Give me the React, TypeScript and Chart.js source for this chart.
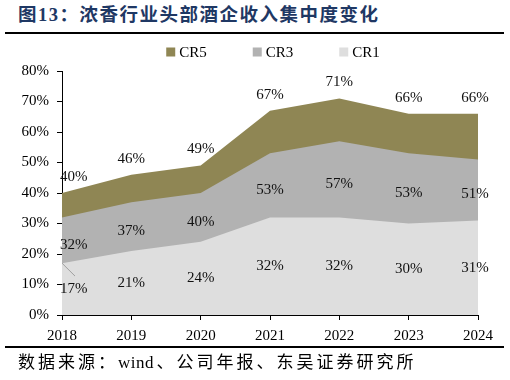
import React, { useEffect, useRef } from "react";
import { Chart, registerables } from "chart.js";

Chart.register(...registerables);

const years = ["2018", "2019", "2020", "2021", "2022", "2023", "2024"];
const cr5 = [40, 46, 49, 67, 71, 66, 66];
const cr3 = [32, 37, 40, 53, 57, 53, 51];
const cr1 = [17, 21, 24, 32, 32, 30, 31];
const yTicks = [0, 10, 20, 30, 40, 50, 60, 70, 80];

const COL5 = "#8F8654";
const COL3 = "#B2B2B2";
const COL1 = "#DEDEDE";
const SERIF = '"Times New Roman", "Liberation Serif", "Noto Sans CJK SC", serif';

const legendPlugin = {
  id: "customLegend",
  afterDraw(chart: any) {
    const { ctx, chartArea } = chart;
    const items = [
      { t: "CR5", c: COL5 },
      { t: "CR3", c: COL3 },
      { t: "CR1", c: COL1 },
    ];
    ctx.save();
    ctx.font = "15px " + SERIF;
    ctx.textBaseline = "middle";
    ctx.textAlign = "left";
    const box = 9;
    const gapBox = 4;
    const gap = 46;
    const widths = items.map((it) => box + gapBox + ctx.measureText(it.t).width);
    const total = widths.reduce((a, b) => a + b, 0) + gap * (items.length - 1);
    let x = (chartArea.left + chartArea.right) / 2 - total / 2 + 3;
    const yc = chartArea.top - 19;
    items.forEach((it, i) => {
      ctx.fillStyle = it.c;
      ctx.fillRect(x, yc - box / 2, box, box);
      ctx.fillStyle = "#000";
      ctx.fillText(it.t, x + box + gapBox, yc + 1);
      x += widths[i] + gap;
    });
    ctx.restore();
  },
};

const labelPlugin = {
  id: "valueLabels",
  afterDatasetsDraw(chart: any) {
    const { ctx } = chart;
    const x = chart.scales.x;
    const y = chart.scales.y;
    ctx.save();
    ctx.font = "15px " + SERIF;
    ctx.fillStyle = "#111";
    ctx.textBaseline = "middle";
    // leader line for first CR1 label
    const p0x = x.getPixelForValue(0);
    ctx.strokeStyle = "#A0A0A0";
    ctx.lineWidth = 1;
    ctx.beginPath();
    ctx.moveTo(p0x, y.getPixelForValue(cr1[0]));
    ctx.lineTo(p0x + 13, y.getPixelForValue(cr1[0] / 2) - 13);
    ctx.stroke();
    years.forEach((_, i) => {
      const px = x.getPixelForValue(i);
      const place = (text: string, py: number) => {
        let tx = px;
        let align = "center";
        if (i === 0) {
          align = "left";
          tx = px - 2;
        } else if (i === years.length - 1) {
          tx = px - 3;
        }
        ctx.textAlign = align;
        ctx.fillText(text, tx, py);
      };
      place(cr5[i] + "%", y.getPixelForValue(cr5[i]) - 16);
      place(cr3[i] + "%", y.getPixelForValue((cr1[i] + cr3[i]) / 2 - 1.5));
      place(cr1[i] + "%", y.getPixelForValue(cr1[i] / 2));
    });
    ctx.restore();
  },
};

function ChartBox() {
  const ref = useRef<HTMLCanvasElement>(null);
  useEffect(() => {
    if (!ref.current) return;
    const chart = new Chart(ref.current, {
      type: "line",
      data: {
        labels: years,
        datasets: [
          { label: "CR1", data: cr1, backgroundColor: COL1, borderWidth: 0, pointRadius: 0, fill: "origin", tension: 0 },
          { label: "CR3", data: cr3, backgroundColor: COL3, borderWidth: 0, pointRadius: 0, fill: "origin", tension: 0 },
          { label: "CR5", data: cr5, backgroundColor: COL5, borderWidth: 0, pointRadius: 0, fill: "origin", tension: 0 },
        ],
      },
      options: {
        animation: false,
        responsive: false,
        maintainAspectRatio: false,
        layout: { padding: { top: 33, right: 32, bottom: 2, left: 0 } },
        plugins: {
          legend: { display: false },
          tooltip: { enabled: false },
        },
        scales: {
          x: {
            type: "category",
            offset: false,
            grid: { display: true, drawOnChartArea: false, drawTicks: true, tickLength: 5, tickColor: "#000" },
            border: { display: true, color: "#000", width: 1 },
            ticks: { color: "#000", font: { family: SERIF, size: 15 }, padding: 7, maxRotation: 0, autoSkip: false },
          },
          y: {
            min: 0,
            max: 80,
            afterFit: (s: any) => {
              s.width = 62;
            },
            afterBuildTicks: (s: any) => {
              s.ticks = yTicks.map((v) => ({ value: v }));
            },
            grid: { display: true, drawOnChartArea: false, drawTicks: true, tickLength: 5, tickColor: "#000" },
            border: { display: true, color: "#000", width: 1 },
            ticks: {
              color: "#000",
              font: { family: SERIF, size: 15 },
              padding: 8,
              callback: (v: any) => v + "%",
            },
          },
        },
      },
      plugins: [labelPlugin, legendPlugin],
    });
    return () => chart.destroy();
  }, []);
  return <canvas ref={ref} width={510} height={316} style={{ position: "absolute", left: 0, top: 38, width: 510, height: 316 }} />;
}

export default function App() {
  return (
    <div style={{ position: "fixed", left: 0, top: 0, width: 510, height: 380, background: "#fff", overflow: "hidden" }}>
      <div
        style={{
          position: "absolute",
          left: 18,
          top: 4,
          fontFamily: SERIF,
          fontWeight: "bold",
          fontSize: 18.5,
          letterSpacing: "1.5px",
          lineHeight: "22px",
          color: "#1F3864",
          whiteSpace: "nowrap",
        }}
      >
        图13：浓香行业头部酒企收入集中度变化
      </div>
      <div style={{ position: "absolute", left: 5, top: 346, width: 499, height: 2, background: "#000" }} />
      <div style={{ position: "absolute", left: 5, top: 32, width: 499, height: 2, background: "#000" }} />
      <ChartBox />
      <div
        style={{
          position: "absolute",
          left: 18,
          top: 353,
          fontFamily: SERIF,
          fontSize: 17,
          letterSpacing: "3px",
          lineHeight: "20px",
          color: "#000",
          whiteSpace: "nowrap",
        }}
      >
        数据来源：<span style={{ letterSpacing: "0.5px" }}>win</span>d、公司年报、东吴证券研究所
      </div>
    </div>
  );
}
